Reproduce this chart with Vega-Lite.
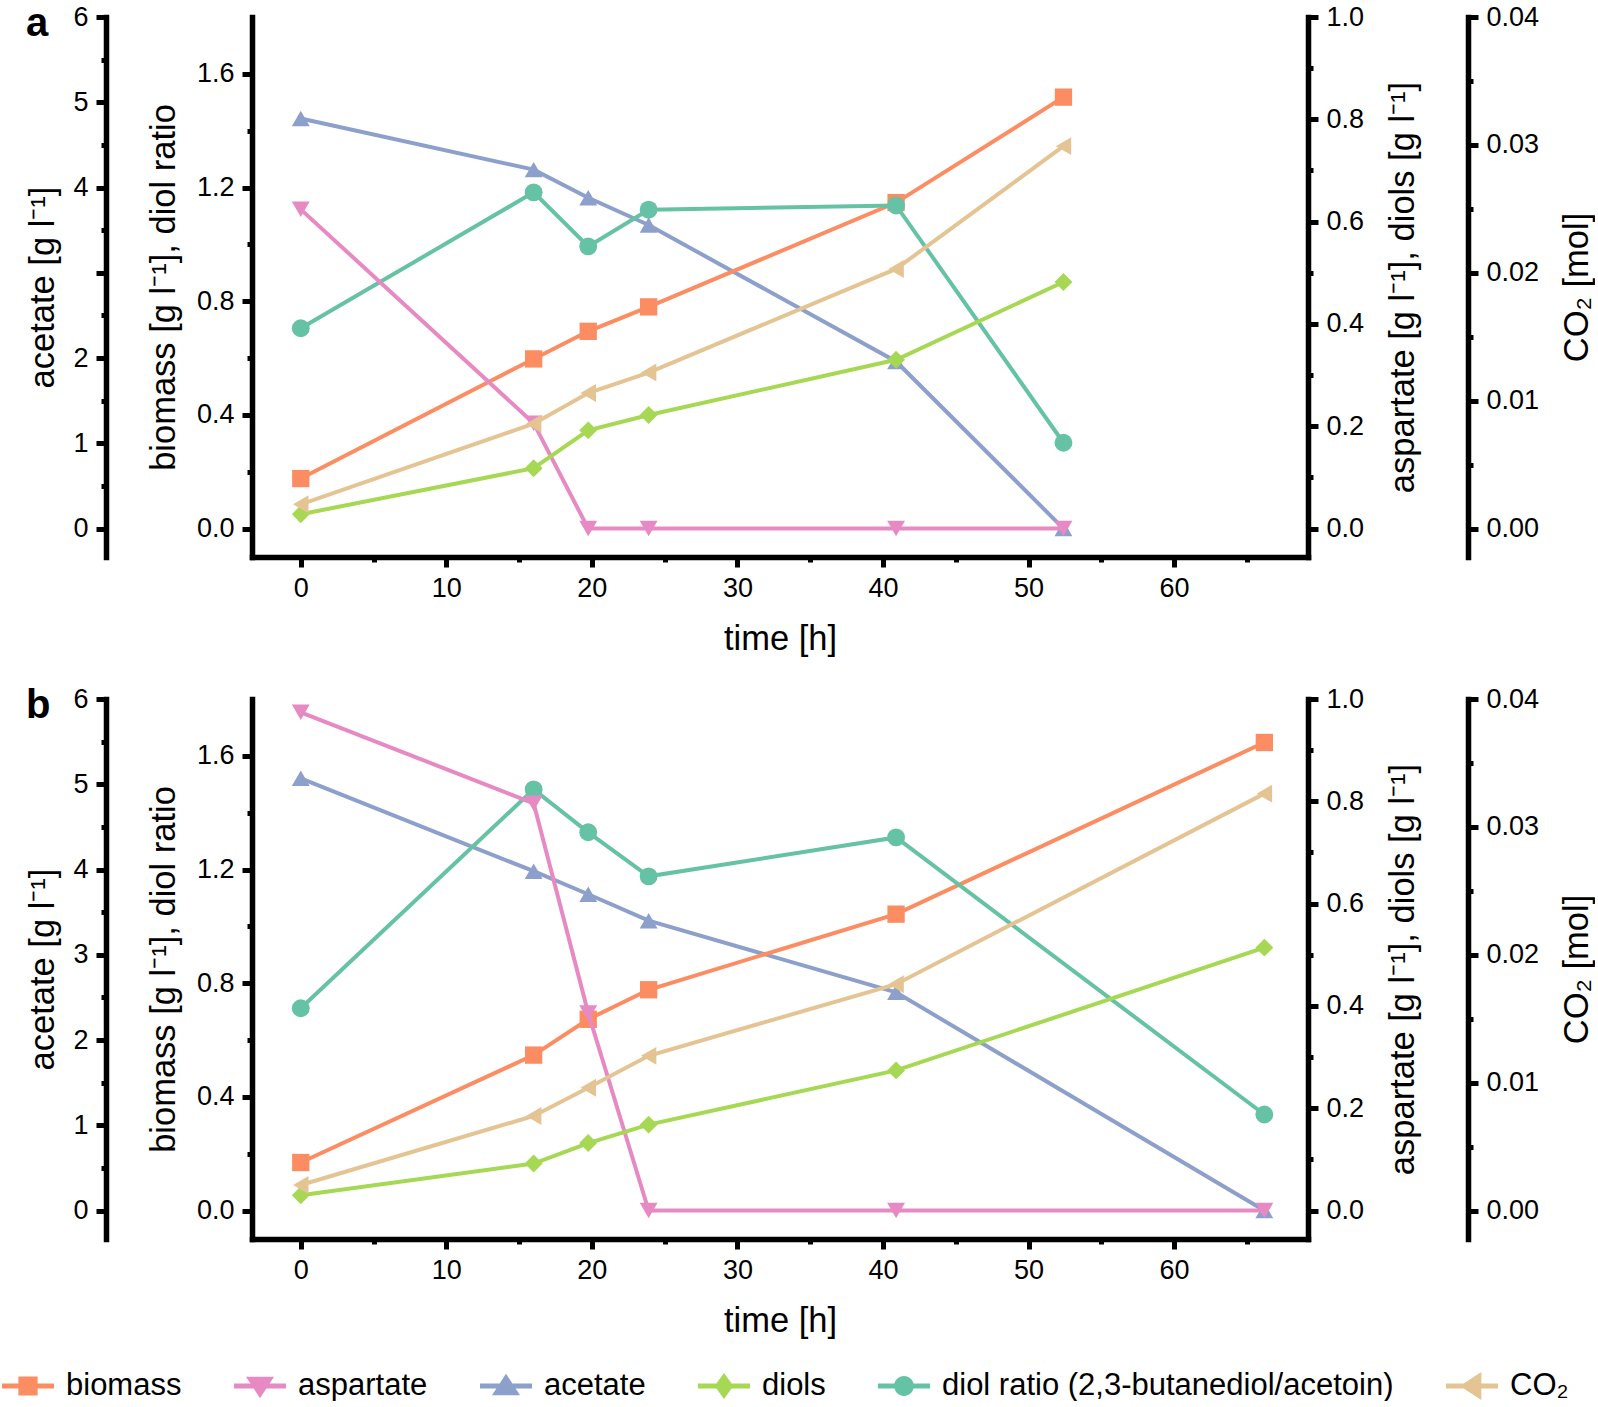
{
"$schema": "https://vega.github.io/schema/vega-lite/v6.json",
"background": "white",
"padding": {"left": 2, "top": 3, "right": 0, "bottom": 0},
"datasets": {
"a": [
{"t":0,"s":"biomass","v":0.176},{"t":16,"s":"biomass","v":0.597},{"t":19.75,"s":"biomass","v":0.694},{"t":23.9,"s":"biomass","v":0.78},{"t":40.9,"s":"biomass","v":1.147},{"t":52.4,"s":"biomass","v":1.518},
{"t":0,"s":"aspartate","v":0.624},{"t":16,"s":"aspartate","v":0.206},{"t":19.75,"s":"aspartate","v":0},{"t":23.9,"s":"aspartate","v":0},{"t":40.9,"s":"aspartate","v":0},{"t":52.4,"s":"aspartate","v":0},
{"t":0,"s":"acetate","v":4.81},{"t":16,"s":"acetate","v":4.21},{"t":19.75,"s":"acetate","v":3.88},{"t":23.9,"s":"acetate","v":3.56},{"t":40.9,"s":"acetate","v":1.96},{"t":52.4,"s":"acetate","v":0},
{"t":0,"s":"diols","v":0.028},{"t":16,"s":"diols","v":0.118},{"t":19.75,"s":"diols","v":0.192},{"t":23.9,"s":"diols","v":0.222},{"t":40.9,"s":"diols","v":0.33},{"t":52.4,"s":"diols","v":0.482},
{"t":0,"s":"diol ratio (2,3-butanediol/acetoin)","v":0.705},{"t":16,"s":"diol ratio (2,3-butanediol/acetoin)","v":1.183},{"t":19.75,"s":"diol ratio (2,3-butanediol/acetoin)","v":0.993},{"t":23.9,"s":"diol ratio (2,3-butanediol/acetoin)","v":1.122},{"t":40.9,"s":"diol ratio (2,3-butanediol/acetoin)","v":1.137},{"t":52.4,"s":"diol ratio (2,3-butanediol/acetoin)","v":0.302},
{"t":0,"s":"CO₂","v":0.0019},{"t":16,"s":"CO₂","v":0.0082},{"t":19.75,"s":"CO₂","v":0.0106},{"t":23.9,"s":"CO₂","v":0.0122},{"t":40.9,"s":"CO₂","v":0.0203},{"t":52.4,"s":"CO₂","v":0.0299}
],
"b": [
{"t":0,"s":"biomass","v":0.169},{"t":16,"s":"biomass","v":0.547},{"t":19.75,"s":"biomass","v":0.673},{"t":23.9,"s":"biomass","v":0.777},{"t":40.9,"s":"biomass","v":1.043},{"t":66.2,"s":"biomass","v":1.647},
{"t":0,"s":"aspartate","v":0.974},{"t":16,"s":"aspartate","v":0.796},{"t":19.75,"s":"aspartate","v":0.386},{"t":23.9,"s":"aspartate","v":0},{"t":40.9,"s":"aspartate","v":0},{"t":66.2,"s":"aspartate","v":0},
{"t":0,"s":"acetate","v":5.07},{"t":16,"s":"acetate","v":3.98},{"t":19.75,"s":"acetate","v":3.71},{"t":23.9,"s":"acetate","v":3.40},{"t":40.9,"s":"acetate","v":2.56},{"t":66.2,"s":"acetate","v":0},
{"t":0,"s":"diols","v":0.03},{"t":16,"s":"diols","v":0.092},{"t":19.75,"s":"diols","v":0.132},{"t":23.9,"s":"diols","v":0.168},{"t":40.9,"s":"diols","v":0.274},{"t":66.2,"s":"diols","v":0.514},
{"t":0,"s":"diol ratio (2,3-butanediol/acetoin)","v":0.712},{"t":16,"s":"diol ratio (2,3-butanediol/acetoin)","v":1.482},{"t":19.75,"s":"diol ratio (2,3-butanediol/acetoin)","v":1.331},{"t":23.9,"s":"diol ratio (2,3-butanediol/acetoin)","v":1.176},{"t":40.9,"s":"diol ratio (2,3-butanediol/acetoin)","v":1.313},{"t":66.2,"s":"diol ratio (2,3-butanediol/acetoin)","v":0.338},
{"t":0,"s":"CO₂","v":0.002},{"t":16,"s":"CO₂","v":0.0074},{"t":19.75,"s":"CO₂","v":0.0096},{"t":23.9,"s":"CO₂","v":0.0121},{"t":40.9,"s":"CO₂","v":0.0177},{"t":66.2,"s":"CO₂","v":0.0326}
]
},
"spacing": 29,
"vconcat": [
{
"width": 1056, "height": 540,
"title": {"text": "a", "dy": 45},
"data": {"name": "a"},
"encoding": {
 "x": {"field": "t", "type": "quantitative", "scale": {"domain": [-3.35, 69.2], "nice": false, "zero": false},
  "axis": {"title": "time [h]", "values": [0,5,10,15,20,25,30,35,40,45,50,55,60,65], "format": "d", "labelExpr": "round(datum.value) % 10 === 0 ? datum.label : ''", "tickSize": {"condition": {"test": "round(datum.value) % 10 === 0", "value": 10}, "value": 5}, "titlePadding": 21}},
 "color": {"field": "s", "type": "nominal",
  "scale": {"domain": ["biomass","aspartate","acetate","diols","diol ratio (2,3-butanediol/acetoin)","CO₂"], "range": ["#fc8d62","#e78ac3","#8da0cb","#a6d854","#66c2a5","#e5c494"]},
  "legend": {"title": null, "orient": "none", "direction": "horizontal", "legendX": -250, "legendY": 1343,
   "encode": {"symbols": {"update": {
     "shape": {"signal": "datum.value === 'biomass' ? 'M-1,-0.1L1,-0.1L1,0.1L-1,0.1Z M-0.37,-0.37L0.37,-0.37L0.37,0.37L-0.37,0.37Z' : datum.value === 'aspartate' ? 'M-1,-0.1L1,-0.1L1,0.1L-1,0.1Z M-0.54,-0.36L0.54,-0.36L0,0.47Z' : datum.value === 'acetate' ? 'M-1,-0.1L1,-0.1L1,0.1L-1,0.1Z M0,-0.47L0.54,0.36L-0.54,0.36Z' : datum.value === 'diols' ? 'M-1,-0.1L1,-0.1L1,0.1L-1,0.1Z M0,-0.5L0.36,0L0,0.5L-0.36,0Z' : datum.value === 'CO₂' ? 'M-1,-0.1L1,-0.1L1,0.1L-1,0.1Z M-0.47,0L0.36,-0.54L0.36,0.54Z' : 'M-1,-0.1L1,-0.1L1,0.1L-1,0.1Z M-0.38,0A0.38,0.38,0,1,1,0.38,0A0.38,0.38,0,1,1,-0.38,0Z'"},
     "fill": {"signal": "datum.value === 'biomass' ? '#fc8d62' : datum.value === 'aspartate' ? '#e78ac3' : datum.value === 'acetate' ? '#8da0cb' : datum.value === 'diols' ? '#a6d854' : datum.value === 'CO₂' ? '#e5c494' : '#66c2a5'"},
     "stroke": {"value": "transparent"},
     "strokeWidth": {"value": 0},
     "opacity": {"value": 1},
     "size": {"value": 2704}
   }}}}}
},
"layer": [
 {"transform": [{"filter": {"field": "s", "oneOf": ["acetate"]}}],
  "encoding": {"y": {"field": "v", "type": "quantitative", "scale": {"domain": [-0.33333, 6], "nice": false, "zero": false},
   "axis": {"orient": "left", "offset": 146, "title": "acetate [g l⁻¹]", "titlePadding": 12, "values": [0,0.5,1,1.5,2,2.5,3,3.5,4,4.5,5,5.5,6], "format": ".0f", "labelExpr": "round(datum.value*2) % 2 === 0 && datum.value !== 3 ? datum.label : ''", "tickSize": {"condition": {"test": "round(datum.value*2) % 2 === 0", "value": 10}, "value": 5}}}},
  "layer": [{"mark": {"type": "line", "strokeWidth": 4}},
   {"mark": {"type": "point", "filled": true, "size": 320, "opacity": 1, "shape": "triangle-up"}}]},
 {"transform": [{"filter": {"field": "s", "oneOf": ["biomass", "diol ratio (2,3-butanediol/acetoin)"]}}],
  "encoding": {"y": {"field": "v", "type": "quantitative", "scale": {"domain": [-0.1, 1.8], "nice": false, "zero": false},
   "axis": {"orient": "left", "offset": 0, "title": "biomass [g l⁻¹], diol ratio", "titlePadding": 15, "values": [0,0.2,0.4,0.6,0.8,1,1.2,1.4,1.6], "format": ".1f", "labelExpr": "round(datum.value*10) % 4 === 0 ? datum.label : ''", "tickSize": {"condition": {"test": "round(datum.value*10) % 4 === 0", "value": 10}, "value": 5}}}},
  "layer": [{"mark": {"type": "line", "strokeWidth": 4}},
   {"transform": [{"filter": "datum.s === 'biomass'"}], "mark": {"type": "point", "filled": true, "size": 300, "opacity": 1, "shape": "square"}},
   {"transform": [{"filter": "datum.s !== 'biomass'"}], "mark": {"type": "point", "filled": true, "size": 320, "opacity": 1, "shape": "circle"}}]},
 {"transform": [{"filter": {"field": "s", "oneOf": ["aspartate", "diols"]}}],
  "encoding": {"y": {"field": "v", "type": "quantitative", "scale": {"domain": [-0.05556, 1], "nice": false, "zero": false},
   "axis": {"orient": "right", "offset": 0, "title": "aspartate [g l⁻¹], diols [g l⁻¹]", "titleAngle": -90, "titleBaseline": "top", "titlePadding": 23, "values": [0,0.1,0.2,0.3,0.4,0.5,0.6,0.7,0.8,0.9,1], "format": ".1f", "labelExpr": "round(datum.value*10) % 2 === 0 ? datum.label : ''", "tickSize": {"condition": {"test": "round(datum.value*10) % 2 === 0", "value": 10}, "value": 5}}}},
  "layer": [{"mark": {"type": "line", "strokeWidth": 4}},
   {"transform": [{"filter": "datum.s === 'aspartate'"}], "mark": {"type": "point", "filled": true, "size": 320, "opacity": 1, "shape": "triangle-down"}},
   {"transform": [{"filter": "datum.s === 'diols'"}], "mark": {"type": "point", "filled": true, "size": 320, "opacity": 1, "shape": "diamond"}}]},
 {"transform": [{"filter": {"field": "s", "oneOf": ["CO₂"]}}],
  "encoding": {"y": {"field": "v", "type": "quantitative", "scale": {"domain": [-0.0022222, 0.04], "nice": false, "zero": false},
   "axis": {"orient": "right", "offset": 160, "title": "CO₂ [mol]", "titleAngle": -90, "titleBaseline": "top", "titlePadding": 22, "values": [0,0.005,0.01,0.015,0.02,0.025,0.03,0.035,0.04], "format": ".2f", "labelExpr": "round(datum.value*1000) % 10 === 0 ? datum.label : ''", "tickSize": {"condition": {"test": "round(datum.value*1000) % 10 === 0", "value": 10}, "value": 5}}}},
  "layer": [{"mark": {"type": "line", "strokeWidth": 4}},
   {"mark": {"type": "point", "filled": true, "size": 320, "opacity": 1, "shape": "triangle-left"}}]}
],
"resolve": {"scale": {"y": "independent"}}
},
{
"width": 1056, "height": 540,
"title": {"text": "b", "dy": 45},
"data": {"name": "b"},
"encoding": {
 "x": {"field": "t", "type": "quantitative", "scale": {"domain": [-3.35, 69.2], "nice": false, "zero": false},
  "axis": {"title": "time [h]", "values": [0,5,10,15,20,25,30,35,40,45,50,55,60,65], "format": "d", "labelExpr": "round(datum.value) % 10 === 0 ? datum.label : ''", "tickSize": {"condition": {"test": "round(datum.value) % 10 === 0", "value": 10}, "value": 5}, "titlePadding": 21}},
 "color": {"field": "s", "type": "nominal",
  "scale": {"domain": ["biomass","aspartate","acetate","diols","diol ratio (2,3-butanediol/acetoin)","CO₂"], "range": ["#fc8d62","#e78ac3","#8da0cb","#a6d854","#66c2a5","#e5c494"]}}
},
"layer": [
 {"transform": [{"filter": {"field": "s", "oneOf": ["acetate"]}}],
  "encoding": {"y": {"field": "v", "type": "quantitative", "scale": {"domain": [-0.33333, 6], "nice": false, "zero": false},
   "axis": {"orient": "left", "offset": 146, "title": "acetate [g l⁻¹]", "titlePadding": 12, "values": [0,0.5,1,1.5,2,2.5,3,3.5,4,4.5,5,5.5,6], "format": ".0f", "labelExpr": "round(datum.value*2) % 2 === 0 ? datum.label : ''", "tickSize": {"condition": {"test": "round(datum.value*2) % 2 === 0", "value": 10}, "value": 5}}}},
  "layer": [{"mark": {"type": "line", "strokeWidth": 4}},
   {"mark": {"type": "point", "filled": true, "size": 320, "opacity": 1, "shape": "triangle-up"}}]},
 {"transform": [{"filter": {"field": "s", "oneOf": ["biomass", "diol ratio (2,3-butanediol/acetoin)"]}}],
  "encoding": {"y": {"field": "v", "type": "quantitative", "scale": {"domain": [-0.1, 1.8], "nice": false, "zero": false},
   "axis": {"orient": "left", "offset": 0, "title": "biomass [g l⁻¹], diol ratio", "titlePadding": 15, "values": [0,0.2,0.4,0.6,0.8,1,1.2,1.4,1.6], "format": ".1f", "labelExpr": "round(datum.value*10) % 4 === 0 ? datum.label : ''", "tickSize": {"condition": {"test": "round(datum.value*10) % 4 === 0", "value": 10}, "value": 5}}}},
  "layer": [{"mark": {"type": "line", "strokeWidth": 4}},
   {"transform": [{"filter": "datum.s === 'biomass'"}], "mark": {"type": "point", "filled": true, "size": 300, "opacity": 1, "shape": "square"}},
   {"transform": [{"filter": "datum.s !== 'biomass'"}], "mark": {"type": "point", "filled": true, "size": 320, "opacity": 1, "shape": "circle"}}]},
 {"transform": [{"filter": {"field": "s", "oneOf": ["aspartate", "diols"]}}],
  "encoding": {"y": {"field": "v", "type": "quantitative", "scale": {"domain": [-0.05556, 1], "nice": false, "zero": false},
   "axis": {"orient": "right", "offset": 0, "title": "aspartate [g l⁻¹], diols [g l⁻¹]", "titleAngle": -90, "titleBaseline": "top", "titlePadding": 23, "values": [0,0.1,0.2,0.3,0.4,0.5,0.6,0.7,0.8,0.9,1], "format": ".1f", "labelExpr": "round(datum.value*10) % 2 === 0 ? datum.label : ''", "tickSize": {"condition": {"test": "round(datum.value*10) % 2 === 0", "value": 10}, "value": 5}}}},
  "layer": [{"mark": {"type": "line", "strokeWidth": 4}},
   {"transform": [{"filter": "datum.s === 'aspartate'"}], "mark": {"type": "point", "filled": true, "size": 320, "opacity": 1, "shape": "triangle-down"}},
   {"transform": [{"filter": "datum.s === 'diols'"}], "mark": {"type": "point", "filled": true, "size": 320, "opacity": 1, "shape": "diamond"}}]},
 {"transform": [{"filter": {"field": "s", "oneOf": ["CO₂"]}}],
  "encoding": {"y": {"field": "v", "type": "quantitative", "scale": {"domain": [-0.0022222, 0.04], "nice": false, "zero": false},
   "axis": {"orient": "right", "offset": 160, "title": "CO₂ [mol]", "titleAngle": -90, "titleBaseline": "top", "titlePadding": 22, "values": [0,0.005,0.01,0.015,0.02,0.025,0.03,0.035,0.04], "format": ".2f", "labelExpr": "round(datum.value*1000) % 10 === 0 ? datum.label : ''", "tickSize": {"condition": {"test": "round(datum.value*1000) % 10 === 0", "value": 10}, "value": 5}}}},
  "layer": [{"mark": {"type": "line", "strokeWidth": 4}},
   {"mark": {"type": "point", "filled": true, "size": 320, "opacity": 1, "shape": "triangle-left"}}]}
],
"resolve": {"scale": {"y": "independent"}}
}
],
"config": {
 "view": {"stroke": null},
 "font": "Liberation Sans",
 "axis": {"grid": false, "domainColor": "#000", "domainWidth": 5.5, "domainCap": "square", "tickColor": "#000", "tickWidth": 5, "labelFont": "Liberation Sans", "labelFontSize": 27, "labelColor": "#000", "titleFont": "Liberation Sans", "titleFontSize": 34.5, "titleFontWeight": "normal", "titleColor": "#000", "labelPadding": 8, "labelOverlap": false, "labelFlush": false, "labelBound": false},
 "legend": {"labelFont": "Liberation Sans", "labelFontSize": 31, "labelColor": "#000", "symbolSize": 2704, "symbolStrokeWidth": 0, "labelOffset": 12, "columnPadding": 52, "labelLimit": 1000},
 "title": {"font": "Liberation Sans", "fontSize": 40, "fontWeight": "bold", "color": "#000", "anchor": "start", "frame": "bounds"}
}
}
